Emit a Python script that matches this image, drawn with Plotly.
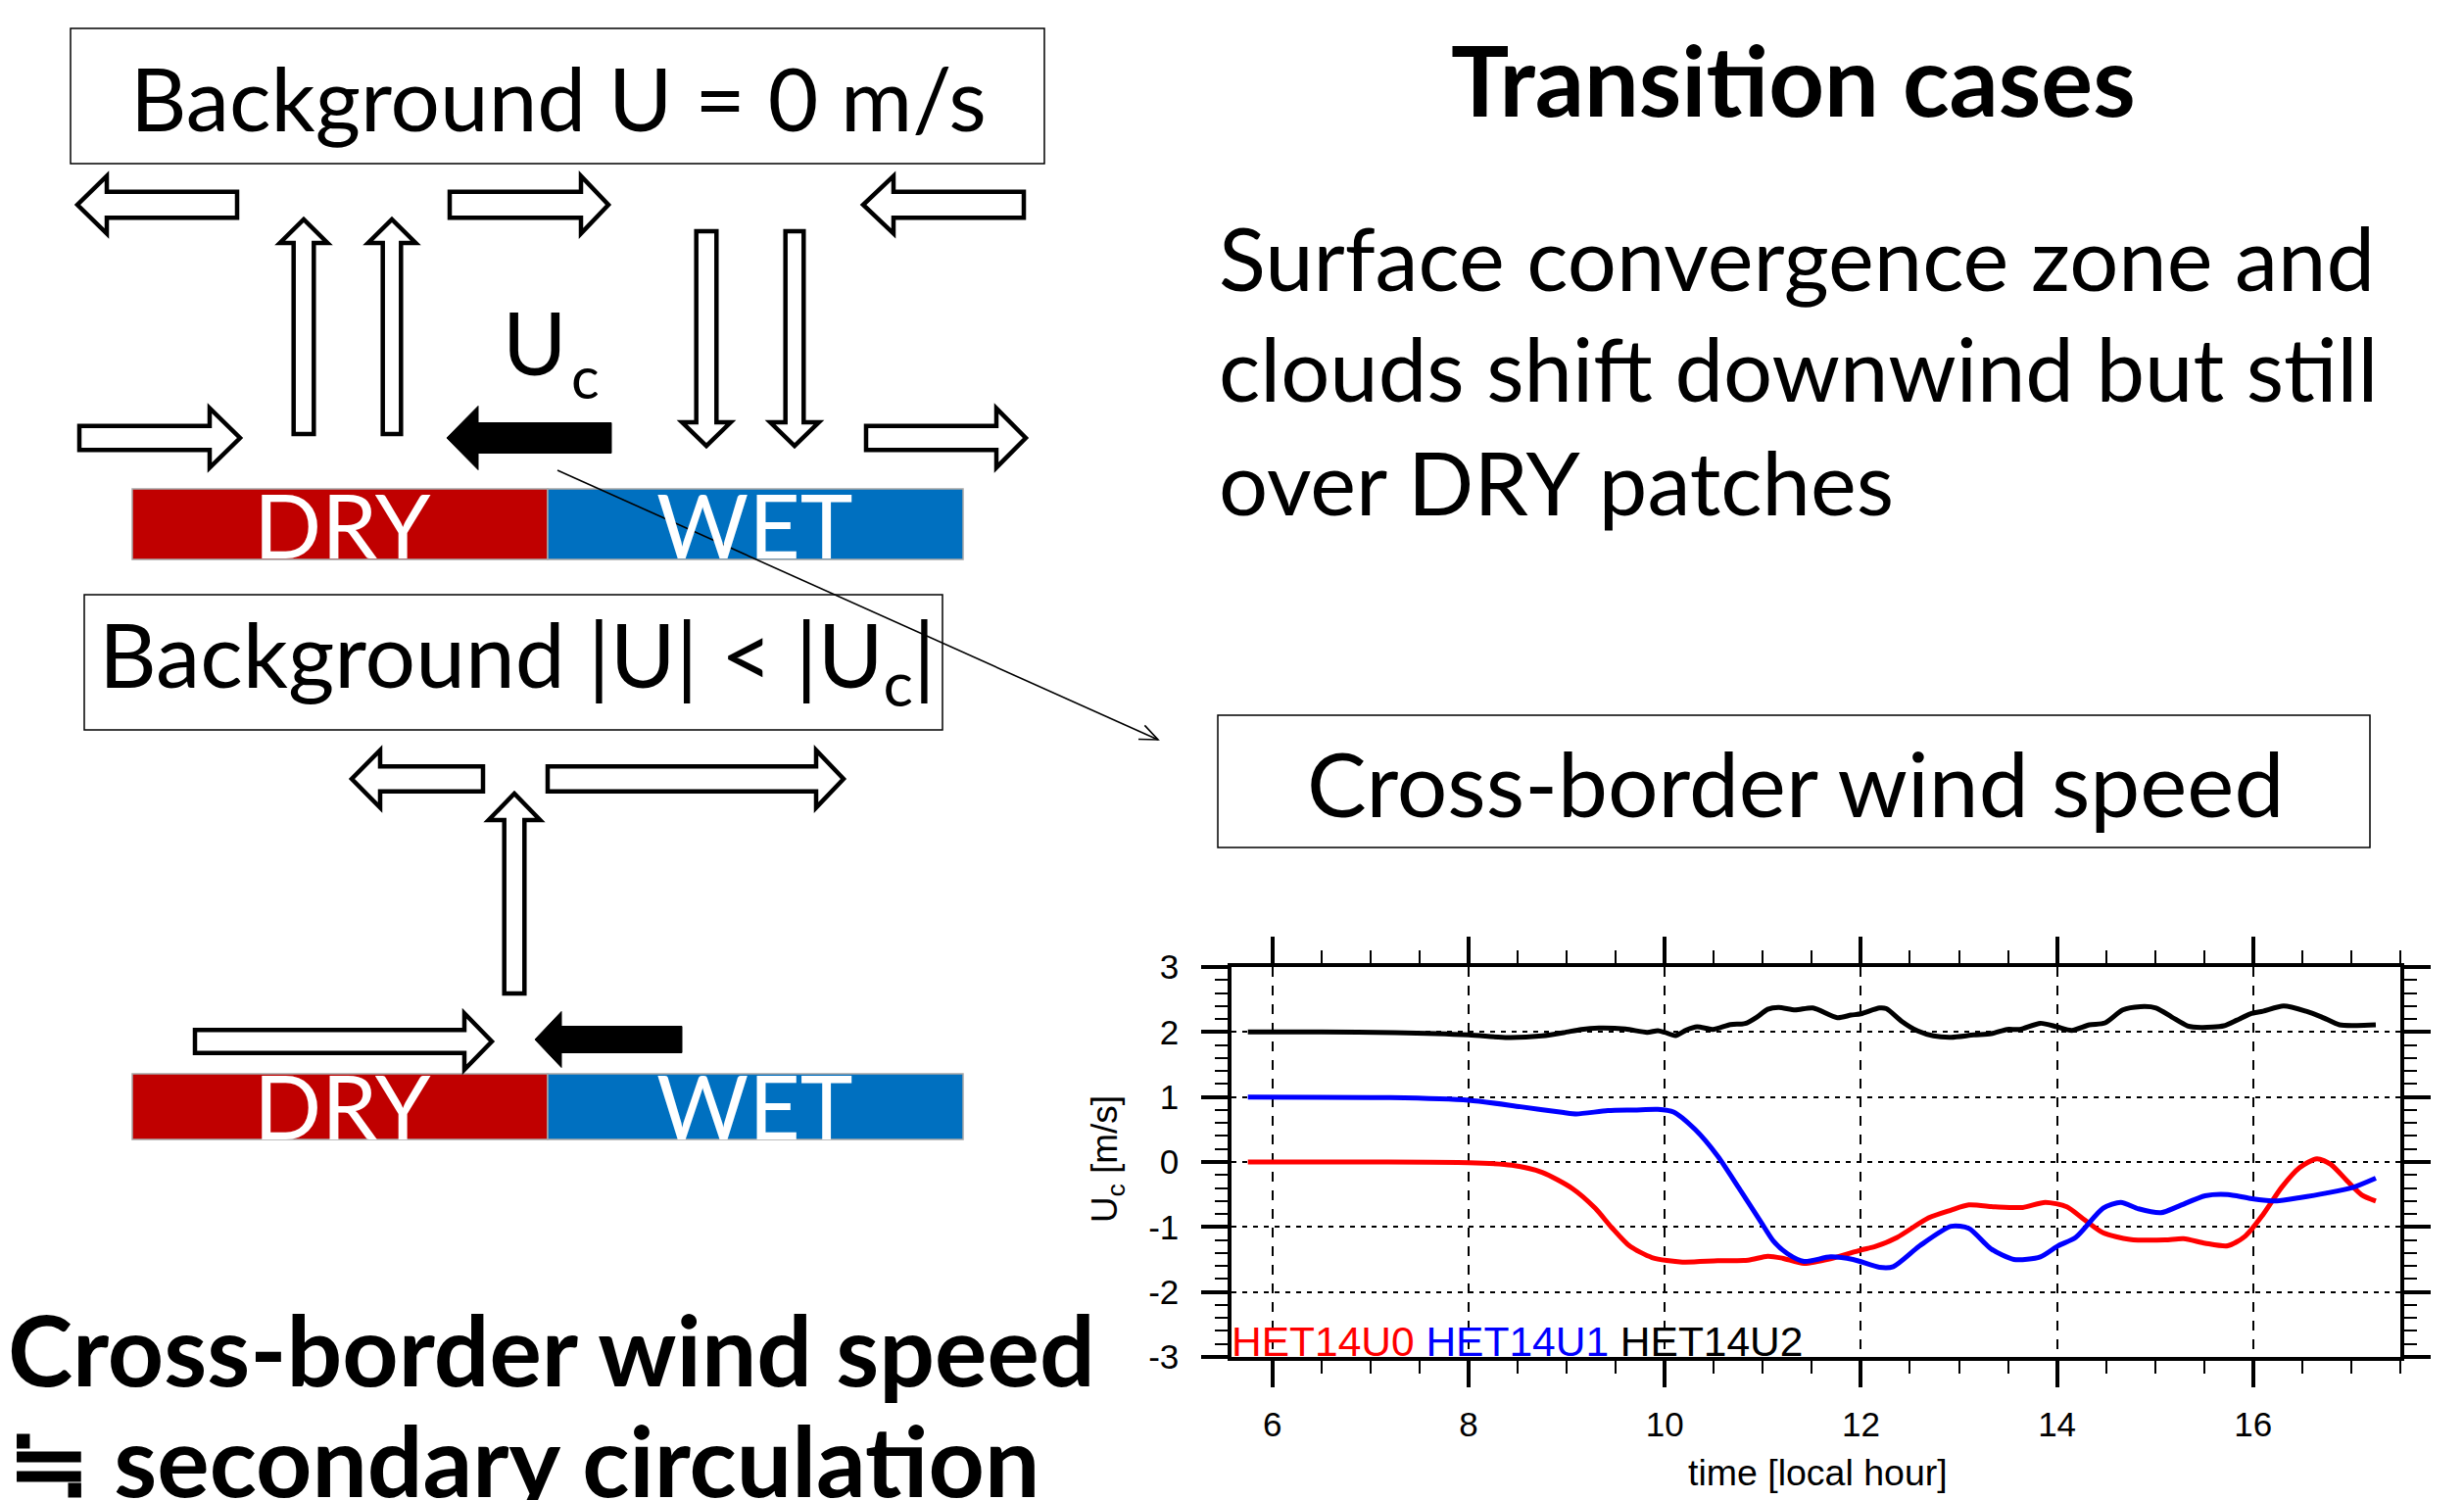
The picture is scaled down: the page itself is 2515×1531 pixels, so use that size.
import math
import plotly.graph_objects as go

W, H = 2515, 1531

# ---------------- data ----------------
t_u2 = [5.75, 6.5, 7.25, 8.0, 8.4, 8.75, 8.97, 9.15, 9.33, 9.6, 9.82, 9.93, 10.0, 10.11, 10.22,
        10.33, 10.49, 10.67, 10.82, 10.94, 11.05, 11.16, 11.33, 11.51, 11.76, 11.9, 12.0, 12.19,
        12.26, 12.42, 12.58, 12.74, 12.92, 13.15, 13.33, 13.49, 13.62, 13.83, 14.0, 14.15, 14.33,
        14.49, 14.67, 14.85, 15.01, 15.17, 15.33, 15.47, 15.7, 15.83, 15.97, 16.1, 16.31, 16.54,
        16.7, 16.88, 17.06, 17.25]
u2 = [2.0, 2.0, 1.99, 1.955, 1.915, 1.94, 1.99, 2.04, 2.06, 2.045, 1.995, 2.02, 1.995, 1.945, 2.03,
      2.08, 2.04, 2.115, 2.13, 2.23, 2.35, 2.38, 2.34, 2.37, 2.22, 2.26, 2.28, 2.37,
      2.36, 2.16, 2.015, 1.94, 1.92, 1.955, 1.975, 2.04, 2.04, 2.135, 2.08, 2.025, 2.11,
      2.14, 2.34, 2.39, 2.37, 2.23, 2.095, 2.07, 2.095, 2.18, 2.28, 2.32, 2.40, 2.32,
      2.23, 2.11, 2.10, 2.11]

t_u1 = [5.75, 7.2, 8.0, 8.53, 8.97, 9.1, 9.42, 9.69, 9.93, 10.09, 10.31, 10.54, 10.76, 10.98, 11.11,
        11.25, 11.42, 11.69, 11.92, 12.19, 12.33, 12.6, 12.92, 13.1, 13.33, 13.56, 13.83, 14.01,
        14.19, 14.47, 14.65, 14.83, 15.06, 15.24, 15.51, 15.74, 15.97, 16.24, 16.47, 16.74, 17.02, 17.25]
u1 = [1.0, 0.99, 0.95, 0.85, 0.76, 0.74, 0.79, 0.80, 0.81, 0.77, 0.50, 0.09, -0.41, -0.92, -1.22,
      -1.41, -1.53, -1.46, -1.50, -1.62, -1.61, -1.29, -0.99, -1.02, -1.34, -1.50, -1.46, -1.29,
      -1.16, -0.71, -0.62, -0.72, -0.78, -0.68, -0.52, -0.50, -0.56, -0.60, -0.55, -0.48, -0.39, -0.25]

t_u0 = [5.75, 7.0, 8.0, 8.44, 8.75, 9.06, 9.29, 9.46, 9.64, 9.87, 10.18, 10.54, 10.85, 11.05, 11.2,
        11.42, 11.69, 12.0, 12.15, 12.37, 12.69, 12.92, 13.1, 13.37, 13.65, 13.88, 14.1, 14.28,
        14.47, 14.74, 15.1, 15.29, 15.51, 15.74, 15.92, 16.1, 16.29, 16.47, 16.65, 16.79, 16.97,
        17.11, 17.25]
u0 = [0.0, 0.0, -0.01, -0.05, -0.16, -0.41, -0.71, -1.01, -1.29, -1.47, -1.54, -1.52, -1.51, -1.45, -1.48,
      -1.56, -1.49, -1.355, -1.30, -1.16, -0.86, -0.74, -0.66, -0.69, -0.70, -0.62, -0.69, -0.89,
      -1.09, -1.19, -1.20, -1.18, -1.25, -1.29, -1.14, -0.81, -0.39, -0.09, 0.05, -0.035, -0.31,
      -0.51, -0.60]

series_names = ["HET14U0", "HET14U1", "HET14U2"]
series_colors = ["#ff0000", "#0000ff", "#000000"]
x_tickvals = [6, 8, 10, 12, 14, 16]
y_tickvals = [-3, -2, -1, 0, 1, 2, 3]
x_range = [5.583, 17.5]
y_range = [-3, 3]

# ---------------- helpers ----------------
def px(x):
    return x / W


def py(y):
    return 1 - y / H


def pt(x, y):
    return f"{px(x):.6f},{py(y):.6f}"


def block_arrow(tail, tip, bw, hw, hl, filled=False):
    (x0, y0), (x1, y1) = tail, tip
    dx, dy = x1 - x0, y1 - y0
    L = math.hypot(dx, dy)
    ux, uy = dx / L, dy / L
    nx, ny = -uy, ux
    bx, by = x1 - ux * hl, y1 - uy * hl
    pts = [(x0 + nx * bw, y0 + ny * bw), (bx + nx * bw, by + ny * bw), (bx + nx * hw, by + ny * hw),
           (x1, y1), (bx - nx * hw, by - ny * hw), (bx - nx * bw, by - ny * bw), (x0 - nx * bw, y0 - ny * bw)]
    path = "M " + " L ".join(pt(a, b) for a, b in pts) + " Z"
    if filled:
        return dict(type="path", xref="paper", yref="paper", path=path,
                    fillcolor="black", line=dict(color="black", width=1))
    return dict(type="path", xref="paper", yref="paper", path=path,
                fillcolor="white", line=dict(color="black", width=4.5))


def hollow(tail, tip, bw, hw, hl):
    # measured outer sizes include the stroke
    (x0, y0), (x1, y1) = tail, tip
    dx, dy = x1 - x0, y1 - y0
    L = math.hypot(dx, dy)
    ux, uy = dx / L, dy / L
    tip2 = (x1 - ux * 3, y1 - uy * 3)
    tail2 = (x0 + ux * 2, y0 + uy * 2)
    return block_arrow(tail2, tip2, bw - 2.2, hw - 2.2, hl - 1, filled=False)


def rect(x0, y0, x1, y1, fill, lc, lw):
    return dict(type="rect", xref="paper", yref="paper", x0=px(x0), x1=px(x1), y0=py(y1), y1=py(y0),
                fillcolor=fill, line=dict(color=lc, width=lw))


SLIDE = "Lato"
CHART = "Liberation Sans"


def text(s, x, base, size, xanchor="center", bold=False, color="black", family=SLIDE, k=0.387):
    return dict(text=s, x=px(x), y=py(base - k * size), xref="paper", yref="paper",
                xanchor=xanchor, yanchor="middle", showarrow=False,
                font=dict(family=family, size=size, color=color, weight=700 if bold else 400))


shapes = []
# boxes
shapes.append(rect(72, 29, 1066, 167, "white", "black", 1.5))
shapes.append(rect(86, 607, 962, 745, "white", "black", 1.5))
shapes.append(rect(1243, 730, 2419, 865, "white", "black", 1.5))
# DRY / WET bars
shapes.append(rect(135, 499, 559, 571, "#C00000", "#A6A6A6", 1.5))
shapes.append(rect(559, 499, 983, 571, "#0070C0", "#A6A6A6", 1.5))
shapes.append(rect(135, 1096, 559, 1163, "#C00000", "#A6A6A6", 1.5))
shapes.append(rect(559, 1096, 983, 1163, "#0070C0", "#A6A6A6", 1.5))

# top diagram arrows
shapes.append(hollow((244, 209), (76, 209), 15.5, 31.5, 31))
shapes.append(hollow((457, 209), (624, 209), 15.5, 31.5, 29))
shapes.append(hollow((1047, 209), (878, 209), 15.5, 31.5, 32))
shapes.append(hollow((310, 445), (310, 221), 12.5, 26.5, 25))
shapes.append(hollow((400, 445), (400, 221), 11.5, 26.5, 25))
shapes.append(hollow((721, 234), (721, 458), 12.5, 27, 25))
shapes.append(hollow((811, 234), (811, 458), 11.5, 27, 25))
shapes.append(hollow((79, 447), (248, 447), 14.5, 32.5, 32))
shapes.append(block_arrow((624, 447), (456, 447), 15.5, 32.5, 32, filled=True))
shapes.append(hollow((882, 447), (1050, 447), 14.5, 32.5, 31))
# bottom diagram arrows
shapes.append(hollow((495, 795), (356, 795), 15, 31.5, 30))
shapes.append(hollow((557, 795), (864, 795), 15, 31.5, 29))
shapes.append(hollow((525, 1016), (525, 807), 12.5, 28.5, 28))
shapes.append(hollow((197, 1063), (505, 1063), 14, 31, 29))
shapes.append(block_arrow((696, 1061), (546, 1061), 13.5, 28.5, 27, filled=True))

# thin pointer line with arrow head
lx0, ly0, lx1, ly1 = 569, 480, 1182, 755
shapes.append(dict(type="line", xref="paper", yref="paper", x0=px(lx0), y0=py(ly0), x1=px(lx1), y1=py(ly1),
                   line=dict(color="black", width=1.6)))
ang = math.atan2(ly1 - ly0, lx1 - lx0)
hl_ = 20
a1 = (lx1 - hl_ * math.cos(ang - 0.4), ly1 - hl_ * math.sin(ang - 0.4))
a2 = (lx1 - hl_ * math.cos(ang + 0.4), ly1 - hl_ * math.sin(ang + 0.4))
shapes.append(dict(type="path", xref="paper", yref="paper",
                   path=f"M {pt(*a1)} L {pt(lx1, ly1)} L {pt(*a2)}",
                   line=dict(color="black", width=1.6)))

annotations = []
annotations.append(text("Background U = 0 m/s", 570, 134, 89))
annotations.append(text("U", 545, 383, 89))
annotations.append(text("c", 581, 407, 60, xanchor="left"))
annotations.append(text("DRY", 349, 570, 91, color="white"))
annotations.append(text("WET", 770, 570, 91, color="white"))
annotations.append(text("Background |U| &lt; |U<sub>c</sub>|", 99, 709, 91, xanchor="left"))
annotations.append(text("DRY", 349, 1163, 91, color="white"))
annotations.append(text("WET", 770, 1163, 91, color="white"))
annotations.append(text("Cross-border wind speed", 6, 1415, 100, xanchor="left", bold=True))
annotations.append(text("≒ secondary circulation", 6, 1528, 100, xanchor="left", bold=True))
annotations.append(text("Transition cases", 1830, 119, 99, bold=True))
para = ["Surface convergence zone and", "clouds shift downwind but still", "over DRY patches"]
for line, base in zip(para, [297, 410, 526]):
    annotations.append(text(line, 1242, base, 88.5, xanchor="left"))
annotations.append(text("Cross-border wind speed", 1832, 834, 91))

# chart texts
legend_html = " ".join(f'<span style="color:{c}">{n}</span>' for n, c in zip(series_names, series_colors))
annotations.append(text(legend_html, 1255, 1384, 42.5, xanchor="left", family=CHART, k=0.347))
annotations.append(text("time [local hour]", 1855, 1516, 37.5, family=CHART, k=0.347))
annotations.append(dict(text="U<sub>c</sub> [m/s]", x=px(1130), y=py(1183), xref="paper", yref="paper",
                        xanchor="center", yanchor="middle", showarrow=False, textangle=-90,
                        font=dict(family=CHART, size=37, color="black")))

fig = go.Figure()
for tt, uu, c, n in [(t_u0, u0, series_colors[0], series_names[0]),
                     (t_u1, u1, series_colors[1], series_names[1]),
                     (t_u2, u2, series_colors[2], series_names[2])]:
    fig.add_trace(go.Scatter(x=tt, y=uu, mode="lines", name=n,
                             line=dict(color=c, width=5, shape="spline", smoothing=0.7),
                             showlegend=False, hoverinfo="skip"))
# empty traces to activate mirror axes
fig.add_trace(go.Scatter(x=[], y=[], xaxis="x2", yaxis="y", showlegend=False))
fig.add_trace(go.Scatter(x=[], y=[], xaxis="x", yaxis="y2", showlegend=False))

dom_x = [px(1257), px(2450)]
dom_y = [py(1385), py(987)]

axis_common = dict(showline=True, linewidth=3.5, linecolor="black", ticks="outside", ticklen=27,
                   tickwidth=3.5, tickcolor="black", zeroline=False, automargin=False)

fig.update_layout(
    width=W, height=H, autosize=False,
    margin=dict(l=0, r=0, t=0, b=0, pad=0, autoexpand=False),
    paper_bgcolor="white", plot_bgcolor="white",
    showlegend=False,
    xaxis=dict(domain=dom_x, range=x_range, tickmode="array", tickvals=x_tickvals,
               ticktext=[str(v) for v in x_tickvals],
               tickfont=dict(family=CHART, size=35, color="black"), ticklabelstandoff=8,
               showgrid=True, gridcolor="black", gridwidth=1.5, griddash="10px,9px",
               minor=dict(ticks="outside", ticklen=13, tickwidth=2, tickcolor="black", dtick=0.5,
                          tick0=0, showgrid=False),
               anchor="y", **axis_common),
    xaxis2=dict(domain=dom_x, range=x_range, overlaying="x", side="top", anchor="y",
                tickmode="array", tickvals=x_tickvals, showticklabels=False, showgrid=False,
                minor=dict(ticks="outside", ticklen=13, tickwidth=2, tickcolor="black", dtick=0.5,
                           tick0=0, showgrid=False),
                **axis_common),
    yaxis=dict(domain=dom_y, range=y_range, tickmode="array", tickvals=y_tickvals,
               ticktext=[str(v) for v in y_tickvals],
               tickfont=dict(family=CHART, size=35, color="black"), ticklabelstandoff=16,
               showgrid=True, gridcolor="black", gridwidth=1.5, griddash="5px,6px",
               minor=dict(ticks="outside", ticklen=13, tickwidth=2, tickcolor="black", dtick=0.2,
                          tick0=0, showgrid=False),
               anchor="x", **axis_common),
    yaxis2=dict(domain=dom_y, range=y_range, overlaying="y", side="right", anchor="x",
                tickmode="array", tickvals=y_tickvals, showticklabels=False, showgrid=False,
                minor=dict(ticks="outside", ticklen=13, tickwidth=2, tickcolor="black", dtick=0.2,
                           tick0=0, showgrid=False),
                **axis_common),
    shapes=shapes,
    annotations=annotations,
)

fig.write_html("out.html")
